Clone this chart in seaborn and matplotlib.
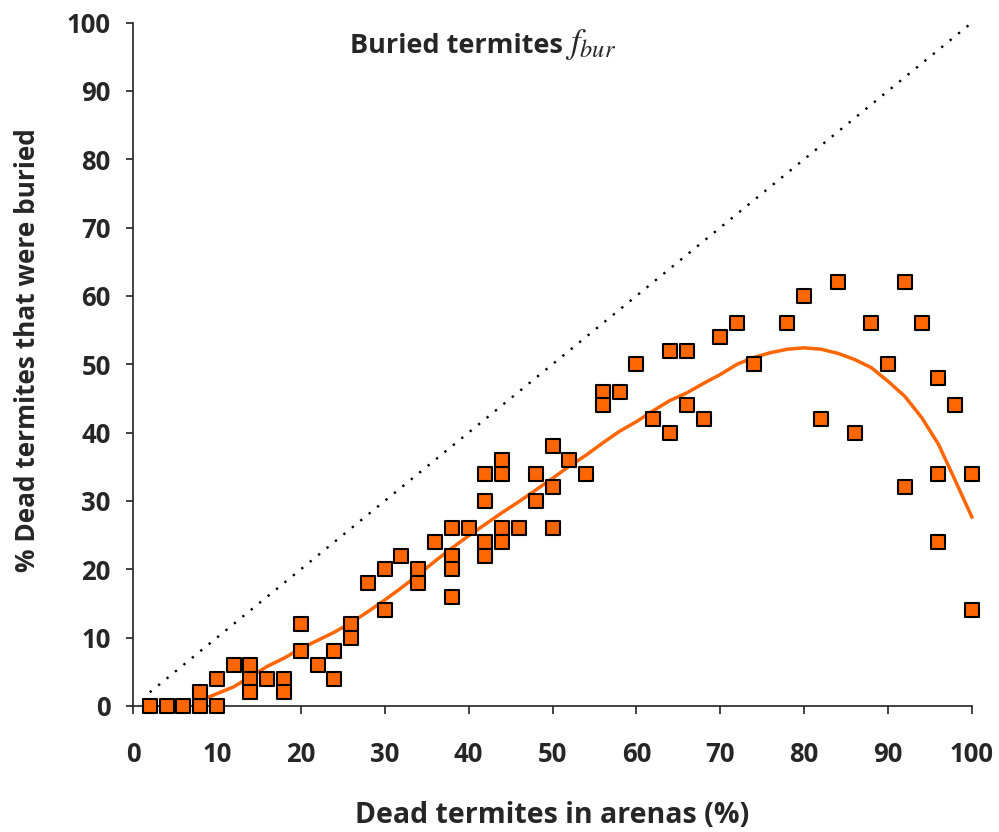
import numpy as np
import pandas as pd
import matplotlib
matplotlib.use("Agg")
import matplotlib.pyplot as plt
import seaborn as sns

# ---- data ----
dead_pct = [2, 4, 6, 8, 8, 10, 10, 12, 14, 14, 14, 16, 18, 18, 20, 20, 22, 24, 24,
            26, 26, 28, 30, 30, 32, 34, 34, 36, 38, 38, 38, 38, 40, 42, 42, 42, 42,
            44, 44, 44, 44, 46, 48, 48, 50, 50, 50, 52, 54, 56, 56, 58, 60, 62, 64,
            64, 66, 66, 68, 70, 72, 74, 78, 80, 82, 84, 86, 88, 90, 92, 92, 94, 96,
            96, 96, 98, 100, 100]
buried_pct = [0, 0, 0, 0, 2, 0, 4, 6, 6, 4, 2, 4, 4, 2, 12, 8, 6, 8, 4,
              12, 10, 18, 20, 14, 22, 20, 18, 24, 26, 22, 20, 16, 26, 34, 30, 24, 22,
              36, 34, 26, 24, 26, 34, 30, 38, 32, 26, 36, 34, 46, 44, 46, 50, 42, 52,
              40, 52, 44, 42, 54, 56, 50, 56, 60, 42, 62, 40, 56, 50, 62, 32, 56, 48,
              34, 24, 44, 34, 14]

trend_x = [8, 10, 12, 14, 16, 18, 20, 22, 24, 26, 28, 30, 32, 34, 36, 38, 40, 42,
           44, 46, 48, 50, 52, 54, 56, 58, 60, 62, 64, 66, 68, 70, 72, 74, 76, 78,
           80, 82, 84, 86, 88, 90, 92, 94, 96, 98, 100]
trend_y = [0.8, 1.8, 2.8, 4.3, 5.8, 7.0, 8.4, 9.6, 10.8, 12.2, 13.8, 15.5, 17.3,
           19.2, 21.2, 23.1, 24.9, 26.6, 28.3, 29.9, 31.6, 33.3, 35.1, 36.7, 38.5,
           40.2, 41.6, 43.2, 44.7, 45.8, 47.2, 48.5, 50.0, 51.0, 51.7, 52.2, 52.4,
           52.2, 51.6, 50.7, 49.5, 47.5, 45.3, 42.2, 38.3, 33.0, 27.6]

diag_x = [2, 100]
diag_y = [2, 100]

ticks = [0, 10, 20, 30, 40, 50, 60, 70, 80, 90, 100]
tick_labels = [str(t) for t in ticks]

df = pd.DataFrame({"dead": dead_pct, "buried": buried_pct})
trend = pd.DataFrame({"x": trend_x, "y": trend_y})
diag = pd.DataFrame({"x": diag_x, "y": diag_y})

# ---- style ----
sns.set_theme(style="ticks")
plt.rcParams['font.family'] = ['Open Sans', 'DejaVu Sans']

ORANGE = "#FF6600"

fig = plt.figure(figsize=(9.99, 8.32), dpi=100)
ax = fig.add_axes([133 / 999, 1 - 706 / 832, (972 - 133) / 999, (706 - 22.5) / 832])

sns.lineplot(data=diag, x="x", y="y", ax=ax, color="black", lw=1.7,
             linestyle=(0, (1, 3.6)), zorder=1)
sns.lineplot(data=trend, x="x", y="y", ax=ax, color=ORANGE, lw=2.5,
             zorder=2, clip_on=False)
sns.scatterplot(data=df, x="dead", y="buried", ax=ax, marker="s", s=92,
                color=ORANGE, edgecolor="black", linewidth=1.5, zorder=3,
                clip_on=False)

ax.set_xlim(0, 100)
ax.set_ylim(0, 100)
ax.set_xticks(ticks)
ax.set_yticks(ticks)
ax.set_xticklabels(tick_labels, fontweight="bold", fontsize=18.5)
ax.set_yticklabels(tick_labels, fontweight="bold", fontsize=18.5)
ax.set_xlabel("")
ax.set_ylabel("")

for side in ["top", "right"]:
    ax.spines[side].set_visible(False)
for side in ["left", "bottom"]:
    ax.spines[side].set_color("#222222")
    ax.spines[side].set_linewidth(1.2)
ax.tick_params(axis="x", direction="out", length=6, width=1.2, color="#222222", pad=19)
ax.tick_params(axis="y", direction="out", length=5, width=1.2, color="#222222", pad=11)

fig.text(350 / 999, 1 - 53 / 832, "Buried termites", fontsize=19.5, fontweight="bold",
         ha="left", va="baseline")
fig.text(565 / 999, 1 - 53 / 832, r"$f_{bur}$", fontsize=25, math_fontfamily="stix",
         ha="left", va="baseline")

fig.text(28 / 999, 1 - 350 / 832, "% Dead termites that were buried", rotation=90,
         fontsize=18.9, fontweight="bold", ha="center", va="center")
fig.text(552 / 999, 1 - 823 / 832, "Dead termites in arenas (%)",
         fontsize=20.5, fontweight="bold", ha="center", va="baseline")

fig.savefig("out.png", dpi=100)
